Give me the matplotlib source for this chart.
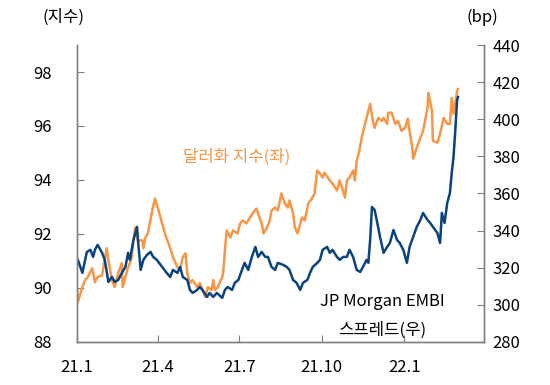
import matplotlib
matplotlib.use("Agg")
import matplotlib.pyplot as plt
import pandas as pd

plt.rcParams['font.family'] = ['Noto Sans CJK KR', 'DejaVu Sans']

start = pd.Timestamp('2021-01-01')

# dollar index (left axis): days since 2021-01-01, value
dxy_days = [0, 1, 6, 9, 12, 17, 20, 23, 28, 33, 35, 39, 42, 46, 50, 51, 56, 59, 61, 63,
            65, 68, 73, 74, 76, 79, 84, 87, 91, 95, 98, 104, 107, 112, 115, 118, 121, 123,
            126, 129, 134, 137, 140, 143, 146, 150, 152, 154, 157, 162, 163, 165, 167, 171,
            174, 179, 182, 185, 189, 193, 196, 200, 202, 206, 208, 212, 215, 217, 221, 224,
            228, 232, 235, 237, 241, 243, 246, 251, 254, 258, 262, 265, 268, 271, 274, 276,
            282, 285, 290, 293, 299, 301, 304, 308, 310, 312, 315, 318, 323, 327, 330, 332,
            336, 340, 342, 346, 347, 351, 355, 358, 362, 366, 369, 371, 374, 375, 379, 383,
            386, 391, 392, 396, 397, 402, 405, 409, 413, 416, 418, 420, 424, 425]
dxy = [89.92, 89.48, 90.03, 90.29, 90.40, 90.73, 90.21, 90.40, 90.47, 91.47, 91.03, 90.29,
       90.03, 90.55, 90.92, 90.03, 90.66, 90.92, 91.14, 91.76, 92.24, 91.76, 91.76, 91.47,
       91.84, 92.02, 92.87, 93.31, 92.87, 92.39, 92.02, 91.47, 91.14, 90.77, 90.66, 91.14,
       91.28, 90.55, 90.18, 90.29, 90.03, 90.18, 89.92, 89.66, 90.03, 89.92, 90.29, 89.92,
       90.03, 90.40, 90.55, 91.39, 92.13, 91.87, 92.13, 92.02, 92.39, 92.50, 92.39, 92.61,
       92.76, 92.94, 92.76, 92.39, 92.02, 92.24, 92.50, 92.87, 92.98, 92.87, 93.50, 93.13,
       92.98, 93.24, 92.76, 92.24, 92.02, 92.61, 92.50, 93.13, 93.31, 93.50, 94.35, 94.24,
       94.09, 94.27, 93.98, 93.87, 93.61, 93.98, 93.35, 93.98, 94.09, 94.35, 93.98, 94.72,
       95.08, 95.64, 96.30, 96.82, 96.19, 95.93, 96.30, 96.19, 96.30, 96.08, 96.49, 96.49,
       96.08, 96.19, 95.82, 95.93, 96.27, 95.82, 95.20, 94.79, 95.20, 95.56, 95.82, 96.67,
       97.23, 96.56, 95.45, 95.38, 95.71, 96.30, 96.08, 96.08, 97.04, 96.45, 97.30, 97.37]

# JP Morgan EMBI spread (right axis, bp)
embi_days = [0, 1, 6, 11, 15, 18, 20, 23, 28, 31, 35, 39, 42, 46, 50, 54, 57, 59, 63, 67,
             68, 71, 74, 78, 82, 85, 89, 95, 100, 104, 107, 112, 115, 118, 123, 126, 129, 134,
             137, 140, 145, 148, 152, 156, 162, 165, 168, 173, 176, 180, 184, 187, 191, 195,
             199, 202, 206, 210, 213, 217, 221, 224, 230, 234, 237, 241, 245, 249, 252, 257,
             260, 263, 268, 271, 274, 279, 282, 285, 290, 293, 297, 301, 304, 308, 312, 316,
             319, 323, 325, 327, 329, 332, 335, 338, 342, 346, 349, 353, 357, 360, 364, 368,
             371, 375, 379, 383, 386, 391, 394, 397, 402, 405, 407, 410, 413, 416, 418, 420,
             422, 424, 425]
embi = [323.1, 324.2, 317.2, 328.5, 329.6, 325.8, 329.6, 332.3, 328.0, 324.2, 312.3, 315.0,
        312.3, 313.4, 317.2, 320.4, 328.0, 324.2, 335.0, 342.0, 335.0, 318.8, 324.2, 326.9,
        328.5, 325.8, 324.2, 320.4, 317.2, 315.0, 318.8, 317.2, 320.4, 315.0, 313.4, 308.0,
        306.4, 308.0, 309.6, 308.0, 304.2, 306.4, 304.2, 306.4, 303.7, 308.0, 309.6, 308.0,
        311.8, 313.4, 318.8, 322.6, 318.8, 325.8, 331.2, 325.8, 328.5, 325.8, 325.8, 320.4,
        318.8, 322.6, 321.5, 320.4, 318.8, 313.4, 311.8, 308.0, 311.8, 313.4, 317.2, 320.4,
        322.6, 324.2, 329.6, 331.2, 328.0, 329.6, 325.8, 324.2, 325.8, 325.8, 329.6, 325.8,
        318.8, 317.7, 320.4, 324.2, 322.6, 335.0, 352.7, 351.1, 344.1, 336.6, 328.0, 331.2,
        333.3, 340.3, 335.0, 333.3, 329.6, 322.6, 331.2, 336.6, 342.0, 345.7, 349.5, 345.7,
        344.1, 342.0, 338.7, 333.3, 349.5, 344.1, 354.9, 360.3, 371.1, 379.7, 394.2, 410.4,
        412.0]

xtick_dates = ['2021-01-01', '2021-04-01', '2021-07-01', '2021-10-01', '2022-01-01']
xtick_labels = ['21.1', '21.4', '21.7', '21.10', '22.1']
left_ticks = [88, 90, 92, 94, 96, 98]
right_ticks = [280, 300, 320, 340, 360, 380, 400, 420, 440]

orange = '#F79646'
blue = '#0B437F'
gray = '#808080'

dxy_dates = start + pd.to_timedelta(dxy_days, unit='D')
embi_dates = start + pd.to_timedelta(embi_days, unit='D')

fig = plt.figure(figsize=(5.5, 3.85), dpi=100)
ax = fig.add_axes([0.14, 0.112, 0.74, 0.771])
ax2 = ax.twinx()

ax.plot(dxy_dates, dxy, color=orange, lw=1.8)
ax2.plot(embi_dates, embi, color=blue, lw=1.8)

ax.set_xlim(start, pd.Timestamp('2022-03-31'))
ax.set_ylim(88, 99)
ax2.set_ylim(280, 440)

ax.set_xticks(pd.to_datetime(xtick_dates))
ax.set_xticklabels(xtick_labels)
ax.set_yticks(left_ticks)
ax2.set_yticks(right_ticks)

for a in (ax, ax2):
    a.spines['top'].set_visible(False)
    for s in ('left', 'right', 'bottom'):
        a.spines[s].set_color(gray)
        a.spines[s].set_linewidth(1.0)
    a.tick_params(direction='in', length=5, color=gray, labelsize=12, labelcolor='black')
ax.tick_params(axis='y', pad=18)
ax.tick_params(axis='x', pad=12)
ax2.tick_params(axis='y', pad=6)

fs = 12
fig.text(0.115, 0.955, '(지수)', fontsize=fs, ha='center', va='center')
fig.text(0.877, 0.955, '(bp)', fontsize=fs, ha='center', va='center')
ax.text(pd.Timestamp('2021-06-28'), 94.85, '달러화 지수(좌)', color=orange,
        fontsize=fs, ha='center', va='center')
ax2.text(pd.Timestamp('2021-12-08'), 301.5, 'JP Morgan EMBI', fontsize=fs,
         ha='center', va='center')
ax2.text(pd.Timestamp('2021-12-08'), 286.5, '스프레드(우)', fontsize=fs,
         ha='center', va='center')

fig.savefig('out.png', dpi=100)
